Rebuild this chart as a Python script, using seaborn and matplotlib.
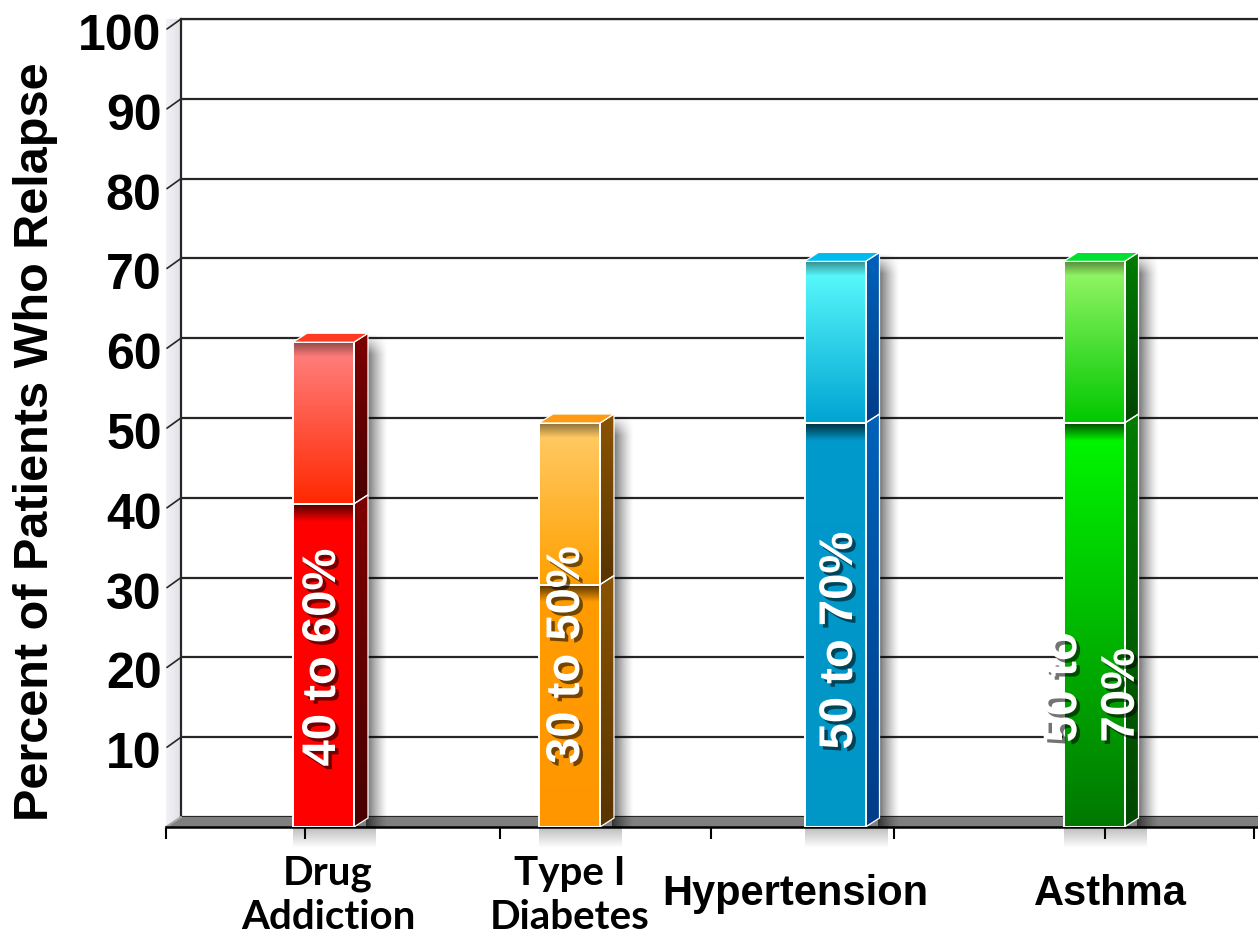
import numpy as np
import pandas as pd
import matplotlib
matplotlib.use("Agg")
import matplotlib.pyplot as plt
import matplotlib.patheffects as pe
from matplotlib.patches import Polygon
from matplotlib.colors import to_rgb
from matplotlib.transforms import ScaledTranslation
import seaborn as sns

# ---- data ----
conditions = ["Drug Addiction", "Type I Diabetes", "Hypertension", "Asthma"]
relapse_low = [40, 30, 50, 50]
relapse_high = [60, 50, 70, 70]
y_ticks = [10, 20, 30, 40, 50, 60, 70, 80, 90, 100]
category_labels = ["Drug\nAddiction", "Type I\nDiabetes", "Hypertension", "Asthma"]
y_title = "Percent of Patients Who Relapse"

# ---- styles ----
upper_top = ["#FF8484", "#FFCC6A", "#5EFFFF", "#9CF86C"]
upper_bot = ["#FF2800", "#FFA000", "#00A4D2", "#00C800"]
lower_top = ["#FF0000", "#FF9C00", "#009ACC", "#00FA00"]
lower_bot = ["#FF0000", "#FF9600", "#0096C6", "#007800"]
side_top = ["#7E0000", "#8A5400", "#0062BA", "#007C00"]
side_bot = ["#480000", "#583400", "#003C88", "#004600"]
cap_col = ["#FF3A22", "#FF9A12", "#00BCEE", "#00E030"]

# ---- layout (figure pixels) ----
W, H, DPI = 1258, 937, 100
bar_centers = [323.5, 569.5, 835, 1094]
bar_w = 61
depth_px = (14, 9)
tick_marks = [166, 305, 500, 711, 894, 1105, 1254]
value_label_pos = [(323, 21.0), (567, 21.3), (840, 23.1), (1093, 17.3)]
value_label_wrap = [False, False, False, True]
cat_label_x = [328, 570, 795, 1110]

ARIAL = "Liberation Sans"

sns.set_theme(style="white")
plt.rcParams["font.family"] = [ARIAL, "DejaVu Sans"]

fig = plt.figure(figsize=(W / DPI, H / DPI), dpi=DPI)
fig.patch.set_facecolor("white")

# back wall axes: 0 at y=818, 100 at y=20
axb = fig.add_axes([181 / W, 1 - 818 / H, (W - 181) / W, 798 / H])
# front plane axes: 0 at y=828, 100 at y=20
ax = fig.add_axes([166 / W, 1 - 828 / H, (W - 166) / W, 808 / H])
axb.set_zorder(0)
ax.set_zorder(1)
ax.patch.set_visible(False)

# ---- back wall ----
axb.set_xlim(0, 1)
axb.set_ylim(0, 100)
axb.set_yticks(y_ticks)
axb.set_yticklabels([str(v) for v in y_ticks])
axb.set_xticks([])
axb.grid(axis="y", color="#262626", linewidth=1.6)
axb.grid(axis="x", visible=False)
axb.spines["right"].set_visible(False)
for s in ["left", "bottom", "top"]:
    axb.spines[s].set_visible(True)
    axb.spines[s].set_color("#262626")
    axb.spines[s].set_linewidth(1.6)
axb.tick_params(axis="y", length=0, pad=14, labelsize=36)
for lbl in axb.get_yticklabels():
    lbl.set_fontweight("bold")
    lbl.set_color("black")
    lbl.set_transform(lbl.get_transform() + ScaledTranslation(0, -12 / DPI, fig.dpi_scale_trans))

# left-wall depth strokes
dxb = 14 / (W - 181)
dyb = 10 * 100 / 798
for v in y_ticks:
    axb.plot([0, -dxb], [v, v - dyb], color="#262626", lw=1.2, clip_on=False, zorder=3)

# pale side wall
axw = fig.add_axes([166 / W, 1 - 828 / H, 15 / W, 808 / H])
axw.set_zorder(-1)
axw.axis("off")
grad_w = np.linspace(0.95, 0.88, 32)[None, :] * np.ones((4, 1))
axw.imshow(np.dstack([grad_w, grad_w, np.minimum(grad_w + 0.02, 1)]), aspect="auto",
           extent=(0, 1, 0, 1), interpolation="bilinear")
axw.set_xlim(0, 1)
axw.set_ylim(0, 1)

# ---- bars ----
df = pd.DataFrame({"condition": conditions, "low": relapse_low, "high": relapse_high,
                   "x": bar_centers})

sns.barplot(data=df, x="x", y="high", hue="condition", native_scale=True,
            palette=dict(zip(conditions, upper_bot)), legend=False, ax=ax,
            edgecolor="white", linewidth=1.4, dodge=False)
n_hi = len(ax.patches)
sns.barplot(data=df, x="x", y="low", hue="condition", native_scale=True,
            palette=dict(zip(conditions, lower_top)), legend=False, ax=ax,
            edgecolor="white", linewidth=1.4, dodge=False)
hi_bars = sorted(ax.patches[:n_hi], key=lambda p: p.get_x())
lo_bars = sorted(ax.patches[n_hi:], key=lambda p: p.get_x())

XMIN, XMAX = 166, 1258
ax.set_xlim(XMIN, XMAX)
ax.set_ylim(0, 100)
DX = depth_px[0]
DY = depth_px[1] * 100 / 808


def vgrad(c_top, c_bot, n=128):
    t = np.linspace(0, 1, n)[:, None, None]
    return (1 - t) * np.array(to_rgb(c_top)) + t * np.array(to_rgb(c_bot))


def alpha_ramp(a0, a1, horizontal, n=64):
    a = np.linspace(a0, a1, n)
    img = np.zeros((1, n, 4) if horizontal else (n, 1, 4))
    if horizontal:
        img[0, :, 3] = a
    else:
        img[:, 0, 3] = a
    return img


def side_shadow(a0, top_fade, n=64, nv=200):
    h = np.linspace(a0, 0.0, n) ** 1.3 / a0 ** 0.3
    v = np.clip(np.linspace(0, 1, nv) / top_fade, 0, 1)
    img = np.zeros((nv, n, 4))
    img[..., 3] = v[:, None] * h[None, :]
    return img


def fill_grad(patch, y0, y1, c_top, c_bot, z):
    x0 = min(v[0] for v in patch.get_verts())
    x1 = max(v[0] for v in patch.get_verts())
    im = ax.imshow(vgrad(c_top, c_bot), extent=(x0, x1, y0, y1), origin="upper",
                   aspect="auto", interpolation="bilinear", zorder=z)
    im.set_clip_path(patch)
    return im


for i, (hp, lp) in enumerate(zip(hi_bars, lo_bars)):
    lo, hi = relapse_low[i], relapse_high[i]
    cx = bar_centers[i]
    xl, xr = cx - bar_w / 2, cx + bar_w / 2
    for p in (hp, lp):
        p.set_x(xl)
        p.set_width(bar_w)
    # stack: upper segment sits on the low value
    hp.set_y(lo)
    hp.set_height(hi - lo)

    # soft cast shadows
    ax.imshow(side_shadow(0.6, 2.5 / (hi + DY)), extent=(xr + DX - 2, xr + DX + 20, -0.5, hi + DY),
              origin="upper", aspect="auto", interpolation="bilinear", zorder=1.5)
    sh = ax.imshow(alpha_ramp(0.28, 0.0, False), extent=(xl, xr + DX + 8, -2.6, 0),
                   origin="upper", aspect="auto", interpolation="bilinear", zorder=1.5)
    sh.set_clip_on(False)

    # side faces
    for (y0, y1) in [(0, lo), (lo, hi)]:
        side = Polygon([(xr, y0), (xr + DX, y0 + DY), (xr + DX, y1 + DY), (xr, y1)],
                       closed=True, facecolor="none", edgecolor="white", lw=0.9, zorder=3.2)
        ax.add_patch(side)
        fill_grad(side, y0, y1 + DY, side_top[i], side_bot[i], 3.0)

    # lower front face
    fill_grad(lp, 0, lo, lower_top[i], lower_bot[i], 3.4)
    lp.set_facecolor("none")
    lp.set_zorder(3.8)
    shadow = ax.imshow(alpha_ramp(0.7, 0.0, False), extent=(xl, xr, lo - 2.2, lo), origin="upper",
                       aspect="auto", interpolation="bilinear", zorder=3.5)
    shadow.set_clip_path(lp)

    # upper front face
    fill_grad(hp, lo, hi, upper_top[i], upper_bot[i], 4.0)
    inner = ax.imshow(alpha_ramp(0.45, 0.0, False), extent=(xl, xr, hi - 1.8, hi), origin="upper",
                      aspect="auto", interpolation="bilinear", zorder=4.1)
    inner.set_clip_path(hp)
    hp.set_facecolor("none")
    hp.set_zorder(4.3)

    # cap
    cap = Polygon([(xl, hi), (xl + DX, hi + DY), (xr + DX, hi + DY), (xr, hi)], closed=True,
                  facecolor=cap_col[i], edgecolor="white", lw=0.9, zorder=4.4)
    ax.add_patch(cap)

    # value label
    txt = f"{lo} to {hi}%"
    if value_label_wrap[i]:
        txt = f"{lo} to\n{hi}%"
    lx, ly = value_label_pos[i]
    ax.text(lx, ly, txt, rotation=90, ha="center", va="center", multialignment="left",
            color="white", fontsize=34, fontweight="bold", family=ARIAL, linespacing=1.4,
            zorder=6,
            path_effects=[pe.withSimplePatchShadow(offset=(2.5, -2.5), shadow_rgbFace="black",
                                                   alpha=0.55)])

# ---- floor ----
floor_dy = 10 * 100 / 808
floor = Polygon([(XMIN, 0), (XMAX, 0), (XMAX, floor_dy), (XMIN + 15, floor_dy)],
                closed=True, facecolor="#7F7F7F", edgecolor="none", zorder=0.5, clip_on=False)
ax.add_patch(floor)
ax.plot([XMIN, XMIN + 15], [0, floor_dy], color="#A8A8A8", lw=1.5, zorder=0.6, clip_on=False)

for s in ["left", "right", "top"]:
    ax.spines[s].set_visible(False)
ax.spines["bottom"].set_visible(True)
ax.spines["bottom"].set_color("black")
ax.spines["bottom"].set_linewidth(1.8)
ax.spines["bottom"].set_zorder(2)
ax.set_xticks(tick_marks)
ax.set_xticklabels([""] * len(tick_marks))
ax.set_yticks([])
ax.set_xlabel("")
ax.set_ylabel("")
ax.tick_params(axis="x", direction="out", length=8.5, width=1.5, color="black", bottom=True)
ax.grid(False)
ax.set_xlim(XMIN, XMAX)
ax.set_ylim(0, 100)

# ---- axis title and category labels ----
fig.text(36 / W, 1 - 442 / H, y_title, rotation=90, ha="center", va="center",
         fontsize=35, fontweight="bold", family=ARIAL, color="black")

for i, lab in enumerate(category_labels):
    if "\n" in lab:
        fig.text(cat_label_x[i] / W, 1 - 855 / H, lab, ha="center", va="top",
                 multialignment="center", fontsize=29, fontweight="bold",
                 family=["Lato", "DejaVu Sans"], linespacing=1.25, color="black")
    else:
        fig.text(cat_label_x[i] / W, 1 - 905 / H, lab, ha="center", va="baseline",
                 fontsize=30, fontweight="bold", family=ARIAL, color="black")

fig.savefig("out.png", dpi=DPI, facecolor="white")
